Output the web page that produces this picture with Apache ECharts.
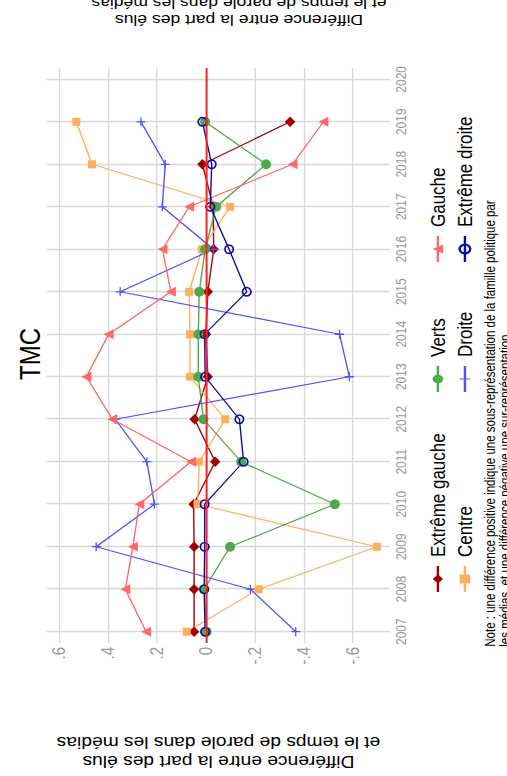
<!DOCTYPE html>
<html>
<head>
<meta charset="utf-8">
<script src="https://cdn.jsdelivr.net/npm/echarts@6.0.0/dist/echarts.min.js"></script>
<style>
html,body{margin:0;padding:0;width:507px;height:776px;overflow:hidden;background:#fff;}
#chart{position:absolute;left:0;top:0;width:776px;height:422px;transform-origin:0 0;
  transform:translate(0,776px) rotate(-90deg) scaleY(1.2014);}
</style>
</head>
<body>
<div id="chart"></div>
<script>
// ---- data ----
const years = ['2007','2008','2009','2010','2011','2012','2013','2014','2015','2016','2017','2018','2019','2020'];
const extremeGauche = [0.048, 0.048, 0.048, 0.050, -0.038, 0.046, -0.008, 0.000, -0.008, -0.032, -0.030, 0.014, -0.344];
const centre        = [0.078, -0.216, -0.698, 0.034, 0.027, -0.079, 0.065, 0.065, 0.068, 0.016, -0.099, 0.465, 0.529];
const verts         = [-0.003, 0.007, -0.099, -0.527, -0.144, 0.010, 0.031, 0.031, 0.027, 0.003, -0.042, -0.246, 0.003];
const droite        = [-0.367, -0.182, 0.448, 0.210, 0.241, 0.370, -0.586, -0.546, 0.350, -0.031, 0.178, 0.166, 0.265];
const gauche        = [0.244, 0.329, 0.298, 0.272, 0.061, 0.382, 0.488, 0.397, 0.143, 0.177, 0.068, -0.354, -0.480];
const extremeDroite = [0.003, 0.007, 0.005, 0.005, -0.154, -0.137, 0.003, 0.005, -0.167, -0.095, -0.018, -0.024, 0.014];
const valueTicks = [-0.6, -0.4, -0.2, 0, 0.2, 0.4, 0.6];
const zeroLine = 0;
const titleText = 'TMC';
const yTitle = 'Différence entre la part des élus\net le temps de parole dans les médias';
const noteText = 'Note : une différence positive indique une sous-représentation de la famille politique par\nles médias, et une différence négative une sur-représentation.';

// ---- style ----
const FONT = '"Liberation Sans", Arial, Helvetica, sans-serif';
const S = 1.2014; // vertical stretch of the original picture
const grid = '#d9d9d9';
const plusPath = 'path://M4.3,0H5.7V4.3H10V5.7H5.7V10H4.3V5.7H0V4.3H4.3Z';

function mkSeries(name, data, color, symbol, size, extraItem) {
  return {
    name: name, type: 'line', data: data,
    xAxisIndex: 0, yAxisIndex: 0,
    color: color,
    symbol: symbol, symbolSize: [size, size / S],
    showAllSymbol: true,
    lineStyle: { color: color, width: 1.15 },
    itemStyle: Object.assign({ color: color }, extraItem || {}),
    emphasis: { disabled: true },
    animation: false
  };
}

const chart = echarts.init(document.getElementById('chart'), null, { renderer: 'svg' });

const legendBase = {
  orient: 'vertical', padding: 0, itemWidth: 26, itemHeight: 11, itemGap: 5.5,
  top: 356, selectedMode: false,
  textStyle: { fontSize: 17, lineHeight: 17, color: '#000', fontFamily: FONT, padding: [0, 0, 0, 4] }
};

const option = {
  animation: false,
  backgroundColor: '#fff',
  textStyle: { fontFamily: FONT },
  title: {
    text: titleText, left: 396, top: 13.5, padding: 0,
    textStyle: { fontSize: 24, fontWeight: 'normal', color: '#000', fontFamily: FONT, lineHeight: 24 }
  },
  legend: [
    Object.assign({}, legendBase, { left: 183, data: ['Extrême gauche', 'Centre'] }),
    Object.assign({}, legendBase, { left: 383, data: ['Verts', 'Droite'] }),
    Object.assign({}, legendBase, { left: 513, data: ['Gauche', 'Extrême droite'] })
  ],
  grid: [
    { left: 144.3, right: 79.3, top: 46.7 / S, bottom: 422 - 390 / S, containLabel: false, outerBoundsMode: 'none' },
    { left: 133, right: 68, top: 59 / S, bottom: 422 - 352.7 / S, containLabel: false, outerBoundsMode: 'none' }
  ],
  xAxis: [
    {
      type: 'category', gridIndex: 0, data: years, boundaryGap: false,
      axisLine: { show: false }, axisTick: { show: false },
      axisLabel: { interval: 0, fontSize: 12, color: '#999', margin: 3, fontFamily: FONT },
      splitLine: { show: true, interval: 0, lineStyle: { color: grid, width: 1.3 } }
    },
    { type: 'value', gridIndex: 1, min: 0, max: 1, show: false }
  ],
  yAxis: [
    { type: 'value', gridIndex: 0, min: -0.752, max: 0.650, show: false, splitLine: { show: false } },
    {
      type: 'value', gridIndex: 1, min: valueTicks[0], max: valueTicks[valueTicks.length - 1], interval: 0.2,
      axisLine: { show: false }, axisTick: { show: false },
      axisLabel: {
        fontSize: 15, color: '#999', margin: 4, fontFamily: FONT,
        formatter: function (v) {
          if (Math.abs(v) < 1e-9) return '0';
          return (v < 0 ? '-' : '') + Math.abs(v).toFixed(1).replace(/^0/, '');
        }
      },
      splitLine: { show: true, lineStyle: { color: grid, width: 1.1 } }
    }
  ],
  series: [
    {
      name: 'zero', type: 'line', xAxisIndex: 1, yAxisIndex: 1, data: [],
      markLine: {
        silent: true, symbol: ['none', 'none'], label: { show: false },
        lineStyle: { color: '#ff2020', width: 1.6, type: 'solid' },
        emphasis: { disabled: true },
        data: [{ yAxis: zeroLine }]
      }
    },
    mkSeries('Extrême gauche', extremeGauche, '#a50000', 'diamond', 10.5),
    mkSeries('Centre', centre, '#ffad5e', 'rect', 8),
    mkSeries('Verts', verts, '#4fa84b', 'circle', 10),
    mkSeries('Droite', droite, '#5050ff', plusPath, 9),
    mkSeries('Gauche', gauche, '#ff6868', 'triangle', 10),
    mkSeries('Extrême droite', extremeDroite, '#0808a8', 'circle', 8.5,
      { color: 'rgba(255,255,255,0)', borderColor: '#0808a8', borderWidth: 1.5 })
  ],
  graphic: [
    {
      type: 'text', x: 24.5, y: 218.5 / S, rotation: Math.PI / 2, silent: true,
      style: { text: yTitle, align: 'center', verticalAlign: 'middle', fontSize: 16, lineHeight: 19, fill: '#000', fontFamily: FONT }
    },
    {
      type: 'text', x: 764.5, y: 239 / S, rotation: Math.PI / 2, silent: true,
      style: { text: yTitle, align: 'center', verticalAlign: 'middle', fontSize: 14.6, lineHeight: 17, fill: '#000', fontFamily: FONT }
    },
    {
      type: 'text', x: 129.3, y: 401.4, silent: true,
      style: { text: noteText, align: 'left', verticalAlign: 'top', fontSize: 11.5, lineHeight: 12.5, fill: '#000', fontFamily: FONT }
    }
  ]
};
chart.setOption(option);
</script>
</body>
</html>
